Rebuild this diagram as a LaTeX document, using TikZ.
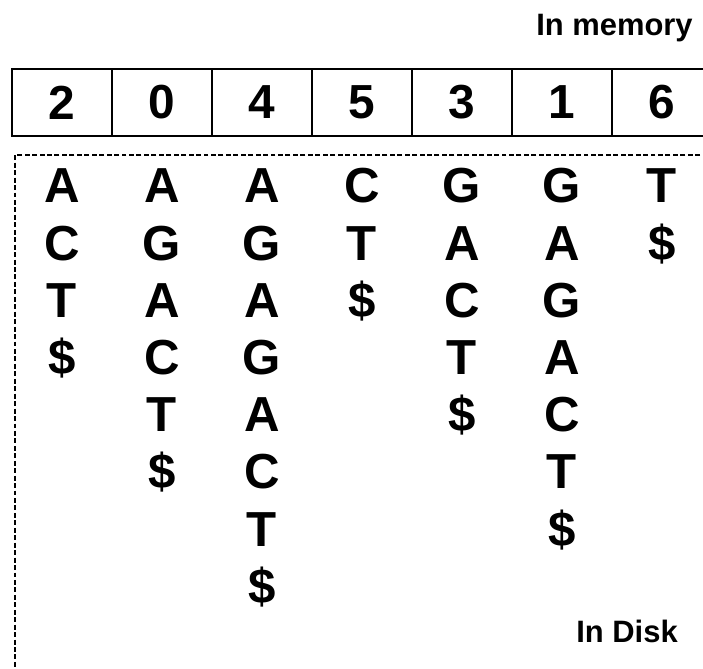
\documentclass[tikz,border=0pt]{standalone}
\usepackage{fontspec}
\setmainfont{Liberation Sans}
\usetikzlibrary{positioning}

\tikzset{
  cell/.style={draw,line width=1pt,minimum width=2.5cm,minimum height=1.675cm,
    inner sep=0pt,font=\fontsize{34}{40}\selectfont\bfseries},
  sym/.style={anchor=base,inner sep=0pt,font=\fontsize{35}{42}\selectfont\bfseries},
  tag/.style={anchor=base east,inner sep=0pt,font=\fontsize{22}{26}\selectfont\bfseries}
}

\begin{document}
\begin{tikzpicture}[x=2.5cm,y=2.5cm]
  \useasboundingbox (0,0) rectangle (7.03,6.69);
  % suffix array row
  \foreach \c/\n in {0/2,1/0,2/4,3/5,4/3,5/1,6/6}
    \node[cell] (c\c) at (0.62+\c,5.665) {\n};
  \node[tag] (mem) at (6.93,6.33) {In memory};
  % suffixes kept on disk
  \draw[line width=1.5pt,dash pattern=on 3.5pt off 1.8pt] (7.3,5.14) -| (0.15,-0.3);
  \foreach \c/\w in {0/{A,C,T,\$},1/{A,G,A,C,T,\$},2/{A,G,A,G,A,C,T,\$},
                     3/{C,T,\$},4/{G,A,C,T,\$},5/{G,A,G,A,C,T,\$},6/{T,\$}}
    \foreach \ch [count=\r from 0] in \w
      \node[sym] (s\c-\r) at (0.62+\c,4.66-0.572*\r) {\ch};
  \node[tag] (disk) at (6.78,0.26) {In Disk};
\end{tikzpicture}
\end{document}
